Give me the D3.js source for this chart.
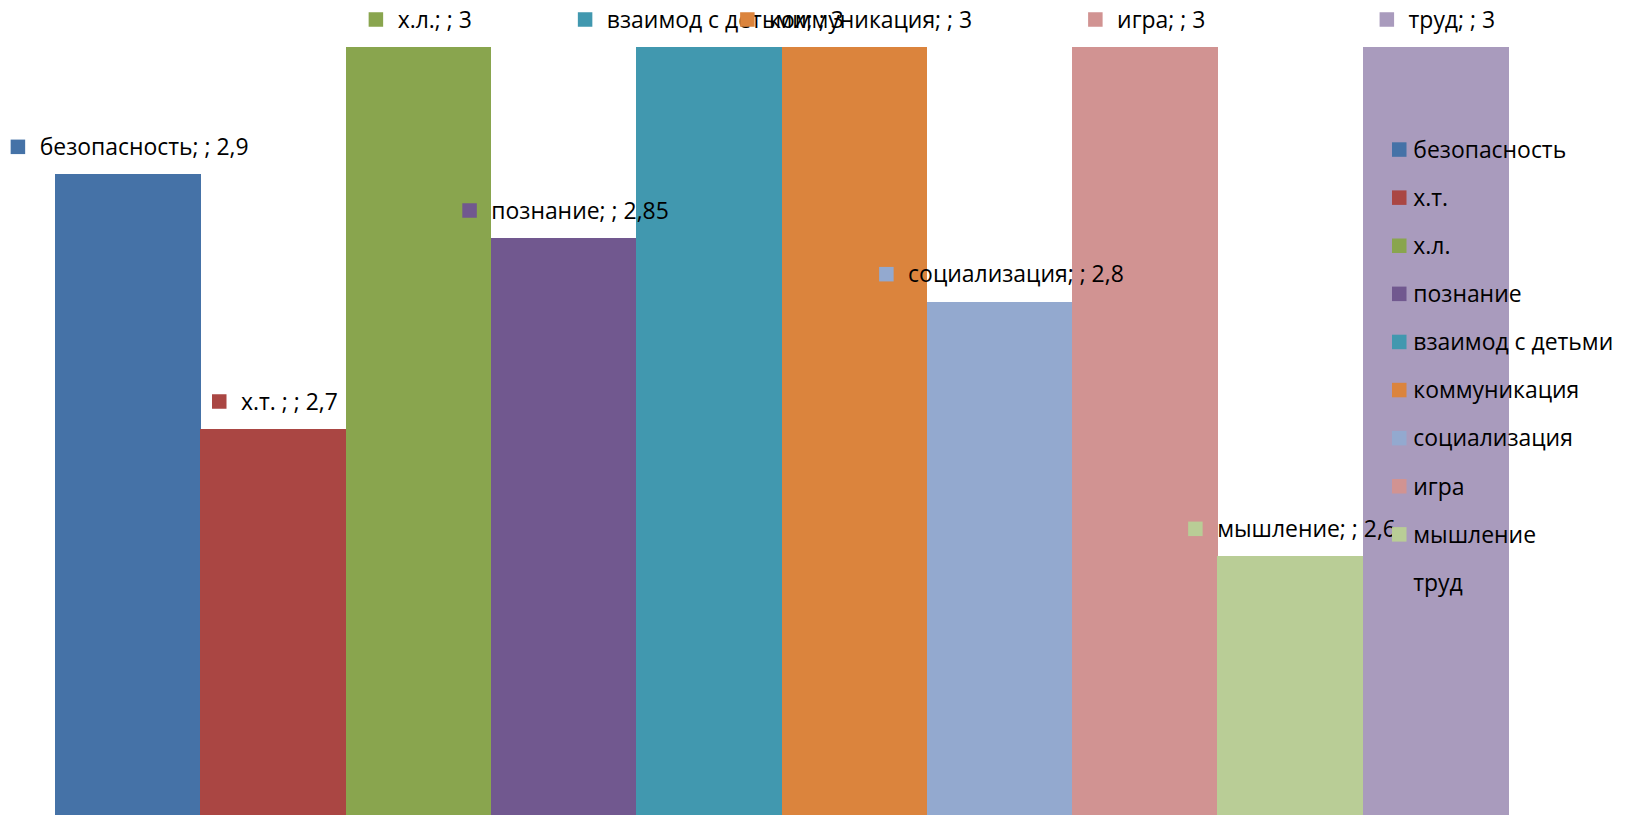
<!DOCTYPE html>
<html>
<head>
<meta charset="utf-8">
<script src="https://cdn.jsdelivr.net/npm/d3@7"></script>
<style>
  html, body { margin: 0; padding: 0; background: #fff; }
  svg { display: block; }
  text { font-family: "Open Sans", "Noto Sans", "DejaVu Sans", sans-serif; fill: #000; }
</style>
</head>
<body>
<svg id="chart" width="1633" height="815"></svg>
<script>
const categories = ["безопасность", "х.т. ", "х.л.", "познание", "взаимод с детьми", "коммуникация", "социализация", "игра", "мышление", "труд"];
const values = [2.9, 2.7, 3, 2.85, 3, 3, 2.8, 3, 2.6, 3];
const colors = ["#4572A7", "#AA4643", "#89A54E", "#71588F", "#4198AF", "#DB843D", "#93A9CF", "#D19392", "#B9CD96", "#A99BBD"];
const legendKeyShown = [true, true, true, true, true, true, true, true, true, false];
const yDomain = [2.4, 3];

const W = 1633, H = 815;
const svg = d3.select("#chart");

// fit font size so that text widths resemble the reference (Calibri)
const probe = svg.append("text").attr("font-size", 100).text("безопасность");
const probeW = probe.node().getComputedTextLength();
probe.remove();
const fs = Math.min(24, 100 * 153 / probeW);

const x = d3.scaleBand().domain(categories).range([55, 1508]).padding(0);
const y = d3.scaleLinear().domain(yDomain).range([811, 47]);
const fmt = v => String(v).replace(".", ",");

// bars
svg.append("g").attr("shape-rendering", "crispEdges")
  .selectAll("rect").data(categories).join("rect")
  .attr("x", d => x(d))
  .attr("y", (d, i) => y(values[i]))
  .attr("width", x.bandwidth() + 0.5)
  .attr("height", (d, i) => H - y(values[i]))
  .attr("fill", (d, i) => colors[i]);

// data labels with legend keys
const key = 14.5, gap = 14.5, lift = 27.5;
const labels = svg.append("g");
categories.forEach((c, i) => {
  const g = labels.append("g");
  const t = g.append("text").attr("font-size", fs).attr("dy", "0.36em").text(c + "; ; " + fmt(values[i]));
  const tw = t.node().getComputedTextLength();
  const total = key + gap + tw;
  const cx = x(c) + x.bandwidth() / 2 + 2;
  const left = cx - total / 2;
  const cy = y(values[i]) - lift;
  g.insert("rect", "text")
    .attr("x", left).attr("y", cy - key / 2)
    .attr("width", key).attr("height", key)
    .attr("fill", colors[i]);
  t.attr("x", left + key + gap).attr("y", cy);
});

// legend
const legend = svg.append("g");
const legTop = 142.3, legStep = 48.1;
categories.forEach((c, i) => {
  const cy = legTop + i * legStep + key / 2;
  if (legendKeyShown[i]) {
    legend.append("rect")
      .attr("x", 1392).attr("y", cy - key / 2)
      .attr("width", key).attr("height", key)
      .attr("fill", colors[i]);
  }
  legend.append("text")
    .attr("x", 1413.3).attr("y", cy).attr("dy", "0.36em")
    .attr("font-size", fs)
    .text(c);
});
</script>
</body>
</html>
